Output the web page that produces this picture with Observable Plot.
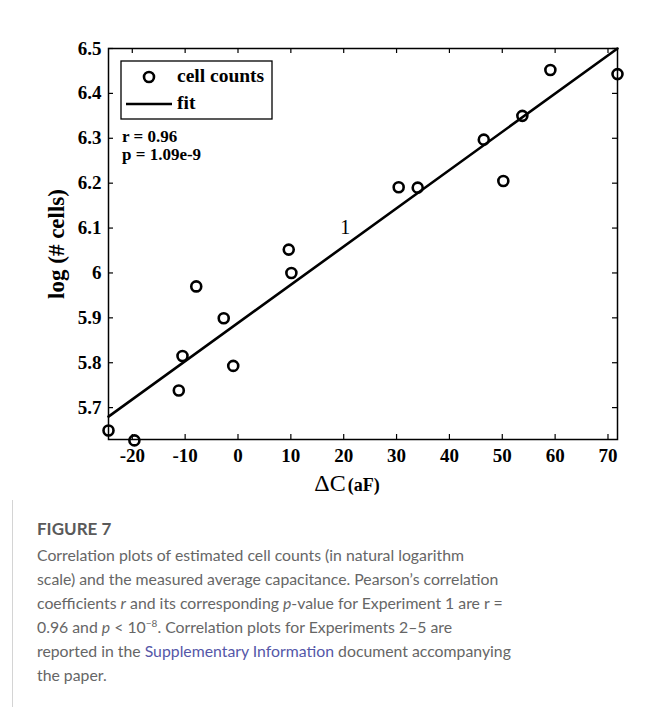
<!DOCTYPE html>
<html><head><meta charset="utf-8">
<script src="https://cdn.jsdelivr.net/npm/d3@7"></script>
<script src="https://cdn.jsdelivr.net/npm/@observablehq/plot@0.6"></script>
<style>
body{margin:0;background:#fff;}
#page{position:relative;width:655px;height:707px;overflow:hidden;background:#fff;}
#border{position:absolute;left:12px;top:8px;width:700px;height:720px;border-left:1px solid #d4d4d4;border-top:1px solid #d4d4d4;}
#chart{position:absolute;left:0;top:0;}
#figlabel{position:absolute;left:37px;top:518px;font-family:"Lato";font-size:17px;font-weight:700;color:#5a5a5a;white-space:nowrap;}
#cap{position:absolute;left:37px;top:543px;font-family:"Lato";font-size:15.8px;line-height:24px;color:#666;white-space:nowrap;}
#cap a{color:#5557a8;text-decoration:none;}
</style></head>
<body><div id="page"><div id="border"></div><div id="chart"></div>
<div id="figlabel">FIGURE 7</div>
<div id="cap">Correlation plots of estimated cell counts (in natural logarithm<br>scale) and the measured average capacitance. Pearson’s correlation<br>coefficients <i>r</i> and its corresponding <i>p</i>-value for Experiment 1 are r =<br>0.96 and <i>p</i> &lt; 10<sup style="font-size:10px;line-height:0">−8</sup>. Correlation plots for Experiments 2–5 are<br>reported in the <a>Supplementary Information</a> document accompanying<br>the paper.</div>
</div>
<script>
// data
const deltaC   = [-24.5, -19.6, -11.2, -10.5, -7.9, -2.7, -0.9, 9.6, 10.1, 30.4, 34.0, 46.5, 50.2, 53.8, 59.1, 71.8];
const logCells = [5.649, 5.627, 5.738, 5.815, 5.970, 5.899, 5.793, 6.052, 6.000, 6.191, 6.190, 6.297, 6.205, 6.350, 6.452, 6.443];
const fitX = [-24.5, 71.8];
const fitY = [5.680, 6.500];
const xTicks = [-20, -10, 0, 10, 20, 30, 40, 50, 60, 70];
const yTicks = [5.7, 5.8, 5.9, 6.0, 6.1, 6.2, 6.3, 6.4, 6.5];
const xDomain = [-24.5, 71.8];
const yDomain = [5.629, 6.5];
const annoX = [20.3], annoY = [6.1], annoText = ["1"];
const legendLabels = ["cell counts", "fit"];
const statLabels = ["r = 0.96", "p = 1.09e-9"];

const points = deltaC.map((x, i) => ({x, y: logCells[i]}));
const fit = fitX.map((x, i) => ({x, y: fitY[i]}));
const anno = annoX.map((x, i) => ({x, y: annoY[i], t: annoText[i]}));

const W = 655, H = 500, mL = 108, mR = 38, mT = 48, mB = 61;
const innerH = H - mT - mB, innerW = W - mL - mR;
const serif = "Liberation Serif";

const svg = Plot.plot({
  width: W, height: H,
  marginLeft: mL, marginRight: mR, marginTop: mT, marginBottom: mB,
  style: {fontFamily: serif, fontSize: "18px", fontWeight: "bold", color: "#000", background: "white"},
  x: {domain: xDomain},
  y: {domain: yDomain},
  marks: [
    Plot.line(fit, {x: "x", y: "y", stroke: "black", strokeWidth: 2.6}),
    Plot.dot(points, {x: "x", y: "y", r: 5, stroke: "black", strokeWidth: 2.6, fill: "none"}),
    Plot.tickX(xTicks, {x: d => d, insetTop: innerH - 5, stroke: "black", strokeWidth: 1.2}),
    Plot.tickX(xTicks, {x: d => d, insetBottom: innerH - 5, stroke: "black", strokeWidth: 1.2}),
    Plot.tickY(yTicks, {y: d => d, insetRight: innerW - 5, stroke: "black", strokeWidth: 1.2}),
    Plot.tickY(yTicks, {y: d => d, insetLeft: innerW - 5, stroke: "black", strokeWidth: 1.2}),
    Plot.axisX(xTicks, {tickSize: 0, tickPadding: 9, label: null, tickFormat: d => String(d), fontWeight: "bold", fontSize: 19}),
    Plot.axisY(yTicks, {tickSize: 0, tickPadding: 7, label: null, tickFormat: d => d === 6 ? "6" : d3.format(".1f")(d), fontWeight: "bold", fontSize: 19}),
    Plot.text(anno, {x: "x", y: "y", text: "t", fontSize: 20, fontWeight: "normal", fill: "black"}),
    Plot.frame({stroke: "black", strokeWidth: 1.5})
  ]
});

const s = d3.select(svg);
// axis titles
s.append("text").attr("transform", "translate(64,244) rotate(-90)")
  .attr("text-anchor", "middle").attr("font-size", 23).attr("font-weight", "bold").text("log (# cells)");
const xl = s.append("text").attr("x", 347).attr("y", 491).attr("text-anchor", "middle").attr("font-weight", "bold");
xl.append("tspan").attr("font-size", 24).attr("font-weight", "normal").text("ΔC");
xl.append("tspan").attr("font-size", 18).attr("dx", 2).text("(aF)");
// legend
const lg = s.append("g").attr("text-anchor", "start");
lg.append("rect").attr("x", 121).attr("y", 61).attr("width", 151).attr("height", 58)
  .attr("fill", "white").attr("stroke", "black").attr("stroke-width", 1.3);
lg.append("circle").attr("cx", 149).attr("cy", 77).attr("r", 5)
  .attr("fill", "none").attr("stroke", "black").attr("stroke-width", 2.6);
lg.append("text").attr("x", 177).attr("y", 82).attr("font-size", 19.5).text(legendLabels[0]);
lg.append("line").attr("x1", 126).attr("x2", 172).attr("y1", 104).attr("y2", 104)
  .attr("stroke", "black").attr("stroke-width", 2.6);
lg.append("text").attr("x", 177).attr("y", 109).attr("font-size", 19.5).text(legendLabels[1]);
lg.append("text").attr("x", 122).attr("y", 142).attr("font-size", 17).text(statLabels[0]);
lg.append("text").attr("x", 122).attr("y", 160).attr("font-size", 17).text(statLabels[1]);

document.getElementById("chart").appendChild(svg);
</script>
</body></html>
